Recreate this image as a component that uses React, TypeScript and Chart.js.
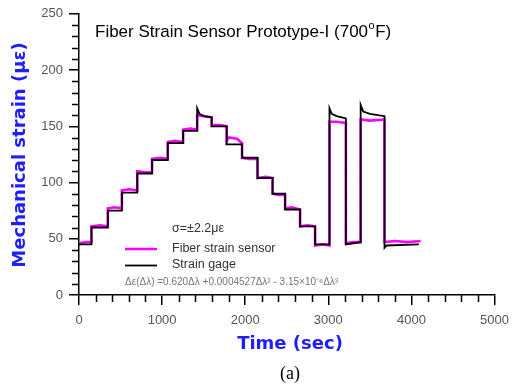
import React, { useEffect, useRef } from "react";
import { Chart, registerables } from "chart.js";

Chart.register(...registerables);

const xTicks = [0, 1000, 2000, 3000, 4000, 5000];
const yTicks = [0, 50, 100, 150, 200, 250];

const gageTime = [0, 150, 150, 347, 347, 516, 516, 701, 701, 879, 879, 1068, 1068, 1253, 1253, 1422, 1422, 1450, 1500, 1596, 1596, 1777, 1777, 1962, 1962, 2148, 2148, 2329, 2329, 2480, 2480, 2660, 2660, 2841, 2841, 3014, 3014, 3040, 3100, 3211, 3211, 3300, 3389, 3389, 3420, 3500, 3676, 3676, 3700, 4090];
const gageStrain = [45, 45, 60, 60, 75, 75, 91, 91, 108, 108, 120, 120, 135, 135, 146, 146, 166, 161, 159, 158, 150, 150, 134, 134, 122, 122, 104, 104, 90, 90, 76, 76, 61, 61, 45, 45, 166, 161, 159, 157, 45, 46, 47, 169, 163, 161, 159, 42, 44, 45];

const sensorTime = [0, 80, 150, 150, 250, 347, 347, 430, 516, 516, 600, 701, 701, 800, 879, 879, 980, 1068, 1068, 1150, 1253, 1253, 1340, 1422, 1422, 1500, 1596, 1596, 1700, 1777, 1777, 1800, 1900, 1962, 1962, 2050, 2148, 2148, 2250, 2329, 2329, 2400, 2480, 2480, 2560, 2660, 2660, 2750, 2841, 2841, 2930, 3014, 3014, 3100, 3211, 3211, 3300, 3389, 3389, 3500, 3676, 3676, 3800, 3950, 4110];
const sensorStrain = [46, 47, 47, 61, 62, 61, 77, 78, 77, 93, 94, 93, 110, 109, 109, 121, 122, 121, 136, 137, 136, 147, 148, 147, 160, 159, 158, 151, 151, 150, 137, 140, 139, 135, 122, 121, 121, 104, 105, 104, 90, 89, 89, 77, 78, 76, 61, 62, 61, 44, 45, 44, 154, 154, 153, 46, 47, 47, 156, 155, 156, 47, 48, 47, 48];

const BLUE = "#1e1eff";

export default function App() {
  const ref = useRef<HTMLCanvasElement | null>(null);
  useEffect(() => {
    document.body.style.margin = "0";
    const canvas = ref.current;
    if (!canvas) return;
    const gage = gageTime.map((t, i) => ({ x: t, y: gageStrain[i] }));
    const sensor = sensorTime.map((t, i) => ({ x: t, y: sensorStrain[i] }));

    const deco = {
      id: "deco",
      afterDraw(chart: any) {
        const ctx = chart.ctx as CanvasRenderingContext2D;
        const xs = chart.scales.x;
        const ys = chart.scales.y;
        const left = chart.chartArea.left;
        const bottom = chart.chartArea.bottom;
        ctx.save();
        // minor ticks
        ctx.strokeStyle = "#000";
        ctx.lineWidth = 1.5;
        for (let v = 0; v <= 5000; v += 200) {
          if (v % 1000 === 0) continue;
          const px = Math.round(xs.getPixelForValue(v)) + 0.5;
          ctx.beginPath();
          ctx.moveTo(px, bottom);
          ctx.lineTo(px, bottom + 7);
          ctx.stroke();
        }
        for (let v = 0; v <= 250; v += 10) {
          if (v % 50 === 0) continue;
          const py = Math.round(ys.getPixelForValue(v)) + 0.5;
          ctx.beginPath();
          ctx.moveTo(left, py);
          ctx.lineTo(left - 7, py);
          ctx.stroke();
        }
        // title
        ctx.fillStyle = "#000";
        ctx.textBaseline = "middle";
        ctx.textAlign = "left";
        ctx.font = "17px 'Liberation Sans', Arial, sans-serif";
        const t1 = "Fiber Strain Sensor Prototype-I (700";
        ctx.fillText(t1, 95, 32);
        const w = ctx.measureText(t1).width;
        ctx.font = "11px 'Liberation Sans', Arial, sans-serif";
        ctx.fillText("o", 95 + w + 0.5, 26);
        const wo = ctx.measureText("o").width;
        ctx.font = "17px 'Liberation Sans', Arial, sans-serif";
        ctx.fillText("F)", 95 + w + wo + 1, 32);
        // legend
        ctx.fillStyle = "#333";
        ctx.font = "12.5px 'Liberation Sans', Arial, sans-serif";
        ctx.fillText("σ=±2.2με", 172, 229);
        ctx.fillText("Fiber strain sensor", 172, 249);
        ctx.fillText("Strain gage", 172, 265);
        ctx.strokeStyle = "#ff00ff";
        ctx.lineWidth = 2.5;
        ctx.beginPath();
        ctx.moveTo(125, 249);
        ctx.lineTo(157, 249);
        ctx.stroke();
        ctx.strokeStyle = "#000";
        ctx.lineWidth = 1.8;
        ctx.beginPath();
        ctx.moveTo(125, 265.5);
        ctx.lineTo(157, 265.5);
        ctx.stroke();
        ctx.fillStyle = "#777";
        ctx.font = "10px 'Liberation Sans', Arial, sans-serif";
        ctx.fillText("Δε(Δλ) =0.620Δλ +0.0004527Δλ² - 3.15×10⁻⁶Δλ³", 125, 282);
        // axis titles
        ctx.fillStyle = BLUE;
        ctx.font = "bold 18px 'DejaVu Sans', Verdana, sans-serif";
        ctx.textAlign = "center";
        ctx.fillText("Time (sec)", 290, 344);
        ctx.save();
        ctx.translate(20, 155);
        ctx.rotate(-Math.PI / 2);
        ctx.fillText("Mechanical strain (με)", 0, 0);
        ctx.restore();
        ctx.fillStyle = "#000";
        ctx.font = "18px 'Liberation Serif', 'Times New Roman', serif";
        ctx.fillText("(a)", 290, 374);
        ctx.restore();
      },
    };

    const chart = new Chart(canvas, {
      type: "line",
      data: {
        datasets: [
          { label: "Strain gage", data: gage, borderColor: "#000", borderWidth: 1.8, pointRadius: 0, fill: false, tension: 0 },
          { label: "Fiber strain sensor", data: sensor, borderColor: "#ff00ff", borderWidth: 2.6, pointRadius: 0, fill: false, tension: 0 },
        ],
      },
      options: {
        animation: false,
        responsive: false,
        devicePixelRatio: 1,
        layout: { padding: { top: 11, right: 15, left: 0, bottom: 0 } },
        plugins: { legend: { display: false }, tooltip: { enabled: false } },
        scales: {
          x: {
            type: "linear",
            min: 0,
            max: 5000,
            afterBuildTicks: (s: any) => { s.ticks = xTicks.map((v) => ({ value: v })); },
            afterFit: (s: any) => { s.height = 92; },
            ticks: { color: "#555", font: { family: "'Liberation Sans', Arial, sans-serif", size: 13 }, padding: 8, maxRotation: 0, callback: (v: any) => String(v) },
            grid: { display: true, drawOnChartArea: false, drawTicks: true, tickLength: 10, color: "#000", lineWidth: 1.5 },
            border: { display: true, color: "#000", width: 1.5 },
          },
          y: {
            type: "linear",
            min: 0,
            max: 250,
            afterBuildTicks: (s: any) => { s.ticks = yTicks.map((v) => ({ value: v })); },
            afterFit: (s: any) => { s.width = 79; },
            ticks: { color: "#555", font: { family: "'Liberation Sans', Arial, sans-serif", size: 13 }, padding: 6, callback: (v: any) => String(v) },
            grid: { display: true, drawOnChartArea: false, drawTicks: true, tickLength: 10, color: "#000", lineWidth: 1.5 },
            border: { display: true, color: "#000", width: 1.5 },
          },
        },
      },
      plugins: [deco],
    });
    return () => chart.destroy();
  }, []);
  return <canvas ref={ref} width={517} height={387} style={{ display: "block" }} />;
}
